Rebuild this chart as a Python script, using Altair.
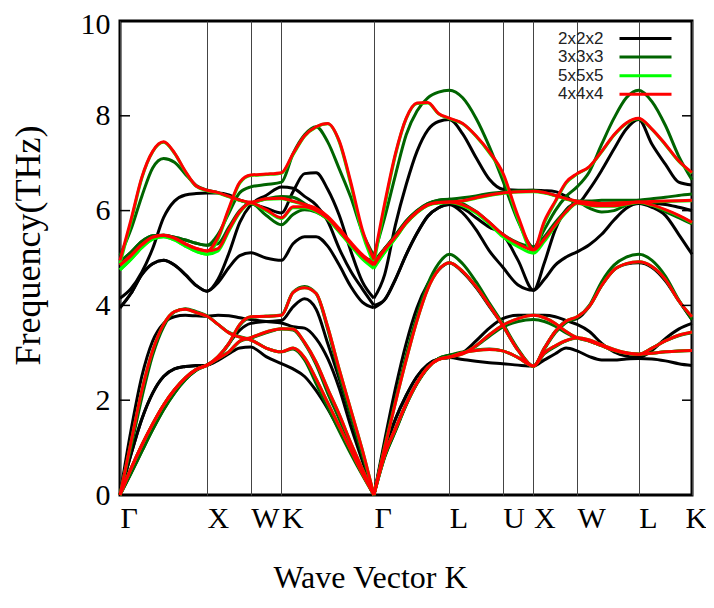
import altair as alt
import pandas as pd

# k-path sample coordinates (path distance), high-symmetry points and labels
kpts = [0, 0.125, 0.25, 0.375, 0.5, 0.625, 0.75, 0.875, 1.0,
        1.125, 1.25, 1.375, 1.5,
        1.6768, 1.8536,
        1.9862, 2.1188, 2.2513, 2.3839, 2.5165, 2.6491, 2.7816, 2.9142,
        3.0379, 3.1616, 3.2853, 3.4091, 3.5328, 3.6565, 3.7802,
        3.9333, 4.0864, 4.2395, 4.3926,
        4.5694, 4.7462,
        4.8712, 4.9962, 5.1212, 5.2462,
        5.3876, 5.5290, 5.6705, 5.8119, 5.9533,
        6.1064, 6.2595, 6.4126, 6.5657]
hs_pos = [0, 1.0, 1.5, 1.8536, 2.9142, 3.7802, 4.3926, 4.7462, 5.2462, 5.9533, 6.5657]
hs_lab = ["Γ", "X", "W", "K", "Γ", "L", "U", "X", "W", "L", "K"]
GAMMA_MID = 22

# 2x2x2
B222 = [
 [0, 0.85, 1.6, 2.15, 2.5, 2.66, 2.71, 2.73, 2.74, 2.84, 2.98, 3.1, 3.12, 2.92, 2.77,
  2.66, 2.5, 2.2, 1.82, 1.38, 0.92, 0.45, 0, 0.95, 1.6, 2.1, 2.5, 2.75, 2.87, 2.9,
  2.86, 2.82, 2.79, 2.77, 2.74, 2.72, 2.85, 2.98, 3.1, 3.04, 2.92, 2.85, 2.85, 2.87, 2.88,
  2.87, 2.83, 2.77, 2.73],
 [0, 0.85, 1.6, 2.15, 2.5, 2.66, 2.71, 2.73, 2.74, 2.9, 3.2, 3.48, 3.62, 3.66, 3.68,
  3.97, 4.14, 3.92, 3.2, 2.45, 1.65, 0.82, 0, 0.95, 1.6, 2.1, 2.5, 2.75, 2.87, 2.9,
  3.0, 3.25, 3.52, 3.72, 3.79, 3.79, 3.79, 3.76, 3.68, 3.6, 3.45, 3.2, 3.02, 2.93, 2.9,
  3.05, 3.3, 3.5, 3.62],
 [0, 1.35, 2.5, 3.25, 3.62, 3.76, 3.79, 3.78, 3.77, 3.79, 3.78, 3.74, 3.7, 3.66, 3.63,
  3.55, 3.52, 3.3, 2.88, 2.25, 1.45, 0.72, 0, 1.15, 2.25, 3.2, 3.95, 4.45, 4.75, 4.9,
  4.7, 4.38, 3.98, 3.58, 3.05, 2.72, 3.1, 3.45, 3.67, 3.72, 3.98, 4.42, 4.75, 4.87, 4.9,
  4.8, 4.52, 4.1, 3.7],
 [3.95, 4.25, 4.65, 4.88, 4.95, 4.85, 4.65, 4.42, 4.3, 4.48, 4.8, 5.05, 5.11, 5.0, 4.95,
  5.3, 5.45, 5.45, 5.25, 4.85, 4.4, 4.07, 3.95, 4.12, 4.55, 5.07, 5.52, 5.88, 6.06, 6.13,
  5.95, 5.6, 5.15, 4.81, 4.43, 4.32, 4.55, 4.85, 5.02, 5.13, 5.28, 5.5, 5.8, 6.05, 6.15,
  6.07, 5.9, 5.5, 5.08],
 [3.95, 4.25, 4.65, 4.88, 4.95, 4.85, 4.65, 4.42, 4.3, 4.55, 5.1, 5.75, 6.12, 6.32, 6.5,
  6.47, 6.3, 6.12, 5.78, 5.2, 4.72, 4.35, 4.0, 4.12, 4.55, 5.07, 5.52, 5.88, 6.06, 6.13,
  6.05, 5.85, 5.65, 5.5, 4.95, 4.32, 4.9, 5.6, 6.02, 6.15, 6.15, 6.12, 6.12, 6.14, 6.15,
  6.15, 6.13, 6.07, 6.0],
 [4.15, 4.35, 4.7, 5.2, 5.85, 6.2, 6.33, 6.36, 6.37, 6.37, 6.33, 6.22, 6.15, 6.05, 5.95,
  6.4, 6.78, 6.8, 6.45, 5.9, 5.15, 4.5, 4.15, 4.65, 5.7, 6.55, 7.25, 7.7, 7.88, 7.92,
  7.62, 7.12, 6.66, 6.45, 6.43, 6.43, 6.42, 6.4, 6.3, 6.15, 6.45, 6.85, 7.3, 7.72, 7.92,
  7.4, 6.98, 6.6, 6.54],
]

# 3x3x3
B333 = [
 [0, 0.45, 0.92, 1.38, 1.8, 2.15, 2.43, 2.63, 2.74, 2.88, 3.02, 3.24, 3.31, 3.42, 3.5,
  3.48, 3.2, 2.75, 2.15, 1.6, 1.02, 0.5, 0, 0.8, 1.35, 1.9, 2.35, 2.68, 2.88, 2.95,
  3.02, 3.06, 3.08, 3.04, 2.9, 2.72, 2.98, 3.13, 3.25, 3.31, 3.25, 3.15, 3.05, 2.99, 2.97,
  2.99, 3.02, 3.04, 3.05],
 [0, 0.45, 0.92, 1.38, 1.8, 2.15, 2.43, 2.63, 2.74, 2.9, 3.18, 3.58, 3.75, 3.77, 3.8,
  4.28, 4.4, 4.25, 3.5, 2.55, 1.68, 0.85, 0, 0.8, 1.35, 1.9, 2.35, 2.68, 2.88, 2.95,
  3.0, 3.14, 3.35, 3.54, 3.66, 3.7, 3.66, 3.56, 3.42, 3.31, 3.25, 3.15, 3.05, 2.99, 2.97,
  3.1, 3.25, 3.36, 3.42],
 [0, 1.0, 2.05, 2.95, 3.55, 3.86, 3.93, 3.87, 3.78, 3.6, 3.43, 3.34, 3.28, 3.1, 3.02,
  3.08, 2.85, 2.35, 1.85, 1.35, 0.87, 0.42, 0, 1.05, 2.0, 2.95, 3.78, 4.45, 4.88, 5.08,
  4.88, 4.5, 4.05, 3.62, 3.08, 2.72, 3.08, 3.42, 3.64, 3.74, 4.0, 4.5, 4.85, 5.02, 5.08,
  4.95, 4.62, 4.12, 3.7],
 [4.92, 5.12, 5.35, 5.47, 5.48, 5.44, 5.38, 5.31, 5.27, 5.3, 5.65, 6.0, 6.16, 5.9, 5.7,
  5.92, 6.02, 5.97, 5.82, 5.56, 5.28, 5.03, 4.92, 5.2, 5.48, 5.78, 6.0, 6.15, 6.22, 6.24,
  6.15, 5.98, 5.75, 5.5, 5.32, 5.23, 5.45, 5.75, 6.0, 6.18, 6.05, 5.97, 6.0, 6.12, 6.22,
  6.12, 5.98, 5.85, 5.72],
 [4.92, 5.12, 5.35, 5.47, 5.48, 5.44, 5.38, 5.31, 5.27, 5.5, 5.95, 6.38, 6.5, 6.55, 6.6,
  7.2, 7.6, 7.77, 7.45, 6.88, 6.28, 5.55, 5.05, 5.85, 6.75, 7.6, 8.1, 8.38, 8.5, 8.54,
  8.38, 7.95, 7.35, 6.64, 5.78, 5.23, 5.6, 6.0, 6.3, 6.5, 6.82, 7.4, 7.95, 8.38, 8.54,
  8.3, 7.8, 7.15, 6.65],
 [5.05, 5.6, 6.3, 6.9, 7.1, 7.02, 6.77, 6.53, 6.43, 6.38, 6.3, 6.22, 6.16, 6.25, 6.3,
  6.28, 6.15, 6.0, 5.82, 5.58, 5.3, 5.05, 4.92, 5.2, 5.48, 5.78, 6.0, 6.15, 6.22, 6.24,
  6.27, 6.31, 6.36, 6.39, 6.42, 6.43, 6.38, 6.32, 6.25, 6.2, 6.2, 6.22, 6.22, 6.22, 6.22,
  6.25, 6.28, 6.32, 6.35],
]

# 5x5x5
B555 = [
 [0, 0.55, 1.05, 1.5, 1.9, 2.22, 2.47, 2.65, 2.74, 2.88, 3.02, 3.25, 3.32, 3.44, 3.51,
  3.5, 3.22, 2.8, 2.24, 1.7, 1.1, 0.55, 0, 0.85, 1.4, 1.93, 2.37, 2.69, 2.86, 2.91,
  3.0, 3.05, 3.07, 3.04, 2.9, 2.72, 3.0, 3.15, 3.26, 3.32, 3.27, 3.17, 3.07, 3.0, 2.97,
  2.99, 3.02, 3.04, 3.05],
 [0, 0.55, 1.05, 1.5, 1.9, 2.22, 2.47, 2.65, 2.74, 2.92, 3.2, 3.6, 3.76, 3.77, 3.79,
  4.27, 4.37, 4.25, 3.55, 2.65, 1.8, 0.95, 0, 0.85, 1.4, 1.93, 2.37, 2.69, 2.86, 2.91,
  2.98, 3.15, 3.38, 3.58, 3.72, 3.79, 3.74, 3.62, 3.45, 3.32, 3.25, 3.15, 3.05, 2.99, 2.97,
  3.1, 3.25, 3.37, 3.44],
 [0, 1.1, 2.2, 3.05, 3.6, 3.87, 3.92, 3.85, 3.77, 3.6, 3.42, 3.33, 3.27, 3.1, 3.02,
  3.1, 2.9, 2.45, 1.95, 1.45, 0.95, 0.45, 0, 1.0, 1.95, 2.85, 3.68, 4.35, 4.75, 4.9,
  4.72, 4.4, 4.0, 3.58, 3.05, 2.72, 3.1, 3.45, 3.67, 3.76, 3.98, 4.42, 4.75, 4.88, 4.92,
  4.82, 4.55, 4.1, 3.76],
 [4.75, 4.97, 5.22, 5.4, 5.45, 5.38, 5.25, 5.14, 5.08, 5.15, 5.57, 5.96, 6.15, 6.0, 5.83,
  6.06, 6.06, 5.98, 5.82, 5.55, 5.26, 4.98, 4.78, 5.12, 5.42, 5.73, 5.96, 6.11, 6.16, 6.17,
  6.1, 5.95, 5.72, 5.45, 5.24, 5.1, 5.35, 5.68, 5.96, 6.15, 6.11, 6.09, 6.09, 6.13, 6.17,
  6.11, 6.01, 5.89, 5.74],
 [4.75, 4.97, 5.22, 5.4, 5.45, 5.38, 5.25, 5.14, 5.08, 5.4, 6.02, 6.58, 6.74, 6.76, 6.79,
  7.18, 7.57, 7.76, 7.83, 7.45, 6.55, 5.52, 4.88, 6.08, 7.17, 7.94, 8.26, 8.27, 8.04, 7.94,
  7.83, 7.57, 7.22, 6.77, 5.82, 5.12, 5.74, 6.18, 6.58, 6.77, 6.92, 7.24, 7.59, 7.84, 7.94,
  7.71, 7.39, 7.04, 6.79],
 [4.88, 5.75, 6.68, 7.24, 7.44, 7.21, 6.82, 6.51, 6.42, 6.37, 6.29, 6.21, 6.17, 6.24, 6.25,
  6.19, 6.12, 6.03, 5.86, 5.59, 5.29, 5.0, 4.8, 5.12, 5.42, 5.73, 5.96, 6.11, 6.16, 6.17,
  6.2, 6.26, 6.32, 6.36, 6.39, 6.4, 6.37, 6.31, 6.24, 6.19, 6.16, 6.14, 6.15, 6.16, 6.17,
  6.18, 6.19, 6.2, 6.21],
]

# 4x4x4
B444 = [
 [0, 0.55, 1.05, 1.5, 1.9, 2.22, 2.47, 2.65, 2.74, 2.88, 3.02, 3.25, 3.32, 3.44, 3.51,
  3.5, 3.22, 2.8, 2.24, 1.7, 1.1, 0.55, 0, 0.85, 1.4, 1.93, 2.37, 2.69, 2.86, 2.91,
  3.0, 3.05, 3.07, 3.04, 2.9, 2.72, 3.0, 3.15, 3.26, 3.32, 3.27, 3.17, 3.07, 3.0, 2.97,
  2.99, 3.02, 3.04, 3.05],
 [0, 0.55, 1.05, 1.5, 1.9, 2.22, 2.47, 2.65, 2.74, 2.92, 3.2, 3.6, 3.76, 3.77, 3.79,
  4.27, 4.37, 4.25, 3.55, 2.65, 1.8, 0.95, 0, 0.85, 1.4, 1.93, 2.37, 2.69, 2.86, 2.91,
  2.98, 3.15, 3.38, 3.58, 3.72, 3.79, 3.74, 3.62, 3.45, 3.32, 3.25, 3.15, 3.05, 2.99, 2.97,
  3.1, 3.25, 3.37, 3.44],
 [0, 1.1, 2.2, 3.05, 3.6, 3.87, 3.92, 3.85, 3.77, 3.6, 3.42, 3.33, 3.27, 3.1, 3.02,
  3.1, 2.9, 2.45, 1.95, 1.45, 0.95, 0.45, 0, 1.0, 1.95, 2.85, 3.68, 4.35, 4.75, 4.9,
  4.72, 4.4, 4.0, 3.58, 3.05, 2.72, 3.1, 3.45, 3.67, 3.76, 3.98, 4.42, 4.75, 4.88, 4.92,
  4.82, 4.55, 4.1, 3.76],
 [4.85, 5.05, 5.28, 5.44, 5.48, 5.42, 5.3, 5.2, 5.15, 5.2, 5.6, 5.98, 6.16, 6.02, 5.85,
  6.08, 6.08, 6.0, 5.84, 5.58, 5.3, 5.04, 4.85, 5.18, 5.45, 5.75, 5.97, 6.12, 6.17, 6.18,
  6.12, 5.98, 5.75, 5.5, 5.3, 5.17, 5.4, 5.7, 5.98, 6.16, 6.12, 6.1, 6.1, 6.14, 6.18,
  6.12, 6.02, 5.9, 5.75],
 [4.85, 5.05, 5.28, 5.44, 5.48, 5.42, 5.3, 5.2, 5.15, 5.44, 6.05, 6.6, 6.75, 6.77, 6.8,
  7.2, 7.58, 7.77, 7.84, 7.47, 6.6, 5.6, 4.97, 6.15, 7.2, 7.95, 8.27, 8.28, 8.05, 7.95,
  7.84, 7.58, 7.24, 6.8, 5.88, 5.18, 5.78, 6.2, 6.6, 6.78, 6.93, 7.25, 7.6, 7.85, 7.95,
  7.72, 7.4, 7.05, 6.8],
 [4.95, 5.8, 6.7, 7.25, 7.45, 7.22, 6.83, 6.52, 6.43, 6.38, 6.3, 6.22, 6.18, 6.25, 6.26,
  6.2, 6.13, 6.05, 5.88, 5.62, 5.33, 5.07, 4.88, 5.18, 5.45, 5.75, 5.97, 6.12, 6.17, 6.18,
  6.21, 6.27, 6.33, 6.37, 6.4, 6.41, 6.38, 6.32, 6.25, 6.2, 6.17, 6.15, 6.16, 6.17, 6.18,
  6.19, 6.2, 6.21, 6.22],
]

set_names = ["2x2x2", "3x3x3", "5x5x5", "4x4x4"]
set_colors = ["#000000", "#006400", "#00ff00", "#ff0000"]
ytick_vals = [0, 2, 4, 6, 8, 10]

def frame(name, bands):
    rows = []
    for bi, band in enumerate(bands):
        for i, (k, f) in enumerate(zip(kpts, band)):
            if i <= GAMMA_MID:
                rows.append({"set": name, "seg": f"{bi}-0", "k": k, "f": f})
            if i >= GAMMA_MID:
                rows.append({"set": name, "seg": f"{bi}-1", "k": k, "f": f})
    return pd.DataFrame(rows)

serif = "Liberation Serif"
label_expr = "[" + ",".join(f"'{s}'" for s in hs_lab) + "][indexof([" + \
    ",".join(str(v) for v in hs_pos) + "], datum.value)]"

x_enc = alt.X("k:Q",
              scale=alt.Scale(domain=[0, hs_pos[-1]], nice=False, zero=False),
              axis=alt.Axis(values=hs_pos, labelExpr=label_expr, grid=True,
                            gridColor="#444444", gridWidth=1, ticks=False, domain=False,
                            labelAlign="left", labelFlush=False, labelOverlap=False,
                            labelOffset=alt.condition("datum.value > 6.5", alt.value(-7), alt.value(0)),
                            labelFont=serif, labelFontSize=30, labelColor="black",
                            labelPadding=8, labelBaseline="top",
                            title="Wave Vector K", titleFont=serif, titleFontSize=32,
                            titleFontWeight="normal", titleColor="black",
                            titleX=250, titleY=82, titleBaseline="middle"))
y_enc = alt.Y("f:Q",
              scale=alt.Scale(domain=[0, 10], nice=False, zero=True),
              axis=alt.Axis(values=ytick_vals, grid=False, ticks=False, domain=False,
                            labelFont=serif, labelFontSize=30, labelColor="black",
                            labelPadding=10, labelFlush=False, labelBaseline="middle",
                            labelOffset=alt.condition("datum.value > 9.5", alt.value(3), alt.value(0)),
                            title="Frequency(THz)", titleFont=serif, titleFontSize=36,
                            titleFontWeight="normal", titleColor="black",
                            titleX=-92, titleY=224, titleBaseline="middle"))

# legend: tiny nominal symbol, line drawn to the right of the label (gnuplot style)
legend = alt.Legend(title=None, orient="none", legendX=419, legendY=9,
                    symbolType="M72,0H124", symbolSize=4, symbolStrokeWidth=3,
                    labelOffset=2, labelFont="Liberation Sans",
                    labelFontSize=17, labelColor="#222222", rowPadding=0.6, padding=0)
color_enc = alt.Color("set:N", scale=alt.Scale(domain=set_names, range=set_colors),
                      legend=legend)

layers = []
for name, bands in [("2x2x2", B222), ("3x3x3", B333), ("5x5x5", B555), ("4x4x4", B444)]:
    layers.append(
        alt.Chart(frame(name, bands)).mark_line(strokeWidth=3, interpolate="monotone")
        .encode(x=x_enc, y=y_enc, color=color_enc, detail="seg:N")
    )

tick_df = pd.DataFrame({"f": ytick_vals[1:-1]})
left_ticks = alt.Chart(tick_df).mark_rule(color="black", strokeWidth=1.5).encode(
    y=y_enc, x=alt.value(0), x2=alt.value(10))
right_ticks = alt.Chart(tick_df).mark_rule(color="black", strokeWidth=1.5).encode(
    y=y_enc, x=alt.value(562), x2=alt.value(572))

chart = alt.layer(*layers, left_ticks, right_ticks).properties(
    width=572, height=474, autosize="none",
    padding={"left": 112, "top": 13, "right": 14, "bottom": 99},
    background="white",
).configure_view(stroke="black", strokeWidth=3)

chart.save("out.html", embed_options={"renderer": "svg", "actions": False})
